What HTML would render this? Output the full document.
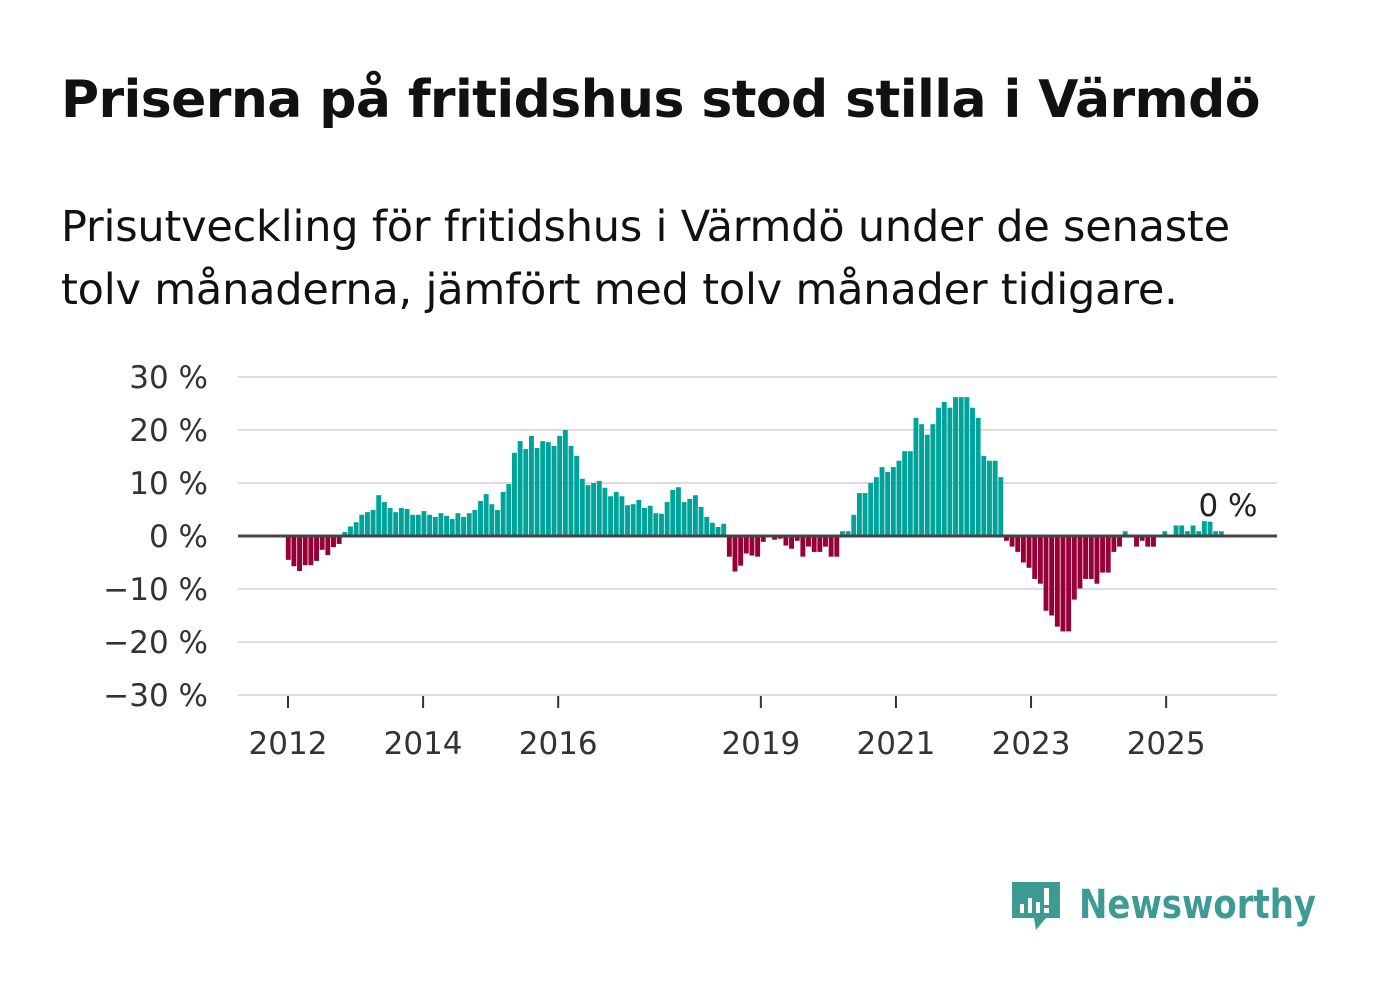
<!DOCTYPE html>
<html><head><meta charset="utf-8"><style>
body{margin:0;width:1382px;height:999px;background:#fff;font-family:"Liberation Sans","DejaVu Sans",sans-serif;overflow:hidden}
#title{position:absolute;left:61px;top:70px;font-size:52px;font-weight:bold;color:#111;font-family:"DejaVu Sans",sans-serif;letter-spacing:-0.6px;white-space:nowrap}
#sub{position:absolute;left:61px;top:196px;font-size:43px;line-height:63px;color:#111;font-family:"DejaVu Sans",sans-serif;width:1230px;letter-spacing:-0.2px}
svg{position:absolute;left:0;top:0}
</style></head><body>
<div id="title">Priserna på fritidshus stod stilla i Värmdö</div>
<div id="sub">Prisutveckling för fritidshus i Värmdö under de senaste<br>tolv månaderna, jämfört med tolv månader tidigare.</div>
<svg width="1382" height="999">
<g id="grid"></g>
<g id="bars"></g>
<g id="axes"></g>
<text x="1228" y="516" font-size="31" text-anchor="middle" fill="#222" font-family="DejaVu Sans,sans-serif">0 %</text>
<g>
<path d="M1012 882 h48 v36 h-14 l-10 12 l-2 -12 h-22 z" fill="#3d9b94"/>
<rect x="1020" y="904" width="4" height="9" fill="#fff"/><rect x="1028" y="898" width="4" height="15" fill="#fff"/><rect x="1036" y="902" width="4" height="11" fill="#fff"/><rect x="1044" y="888" width="5" height="17" fill="#fff"/><rect x="1044" y="908" width="5" height="5" fill="#fff"/>
<text x="1079" y="918" font-size="40" font-weight="bold" fill="#3d9b94" font-family="DejaVu Sans,sans-serif" textLength="237" lengthAdjust="spacingAndGlyphs">Newsworthy</text>
</g>
</svg>
<script>
const values=[-4.5,-5.7,-6.6,-5.5,-5.5,-4.7,-2.6,-3.6,-2.1,-1.5,
0.75,1.8,2.6,4.0,4.5,4.9,7.7,6.4,5.3,4.5,5.3,5.1,4.0,4.0,4.7,4.0,3.6,4.3,3.8,3.2,4.3,3.6,4.3,4.9,6.6,7.9,6.0,4.9,8.3,9.8,
15.7,17.9,16.4,18.9,16.6,17.9,17.7,17.0,18.9,20.0,17.0,15.1,10.8,9.6,10.0,10.4,9.1,7.5,8.3,7.5,5.8,6.0,6.8,5.3,5.7,4.3,4.2,6.4,8.7,9.2,6.4,7.0,7.7,5.5,3.6,2.5,1.7,2.3,
-3.9,-6.7,-5.6,-3.3,-3.7,-3.9,-1.1,0,-0.7,-0.5,-1.8,-2.4,-0.9,-3.9,-2.0,-3.0,-3.0,-2.0,-3.9,-3.9,
0.9,0.9,4.0,8.1,8.1,10.0,11.1,13.0,12.1,13.0,14.2,16.0,16.0,22.3,21.1,19.1,21.1,24.2,25.3,24.2,26.2,26.2,26.2,24.2,22.3,15.1,14.2,14.2,11.1,
-0.9,-2.0,-3.0,-5.0,-6.0,-8.1,-9.0,-14.1,-15.0,-17.1,-18.0,-18.0,-12.0,-9.9,-8.1,-8.1,-9.0,-6.9,-6.9,-3.0,-2.0,
0.9,0,-2.0,-0.9,-2.0,-2.0,0,0.9,0,2.0,2.0,0.9,2.0,0.9,2.8,2.7,0.9,0.9];
const startYear=2012;
const yTicks=[30,20,10,0,-10,-20,-30];
const yTickLabels=["30 %","20 %","10 %","0 %","−10 %","−20 %","−30 %"];
const xTickYears=[2012,2014,2016,2019,2021,2023,2025];

const NS="http://www.w3.org/2000/svg";
const y=v=>536-v*5.3;
const x=m=>288+m*5.655;
function mk(tag,attrs,parent){const e=document.createElementNS(NS,tag);for(const k in attrs)e.setAttribute(k,attrs[k]);parent.appendChild(e);return e;}
const grid=document.getElementById('grid'),bars=document.getElementById('bars'),axes=document.getElementById('axes');
yTicks.forEach((t,i)=>{
  if(t!==0){const l=mk('line',{x1:238,x2:1277,y1:y(t),y2:y(t),stroke:'#dcdcdc','stroke-width':2},grid);
  
  }
  const tx=mk('text',{x:208,y:y(t)+11,'font-size':31,'text-anchor':'end',fill:'#333','font-family':'DejaVu Sans,sans-serif'},axes);
  tx.textContent=yTickLabels[i];
  
  
});
const xt=yr=>288+(yr-startYear)*67.55;
values.forEach((v,i)=>{
  if(v===0)return;
  const r=mk('rect',{x:x(i)-2.2,width:4.9,y:Math.min(y(v),536),height:Math.abs(y(v)-536),fill:v>0?'#00a399':'#960036'},bars);
  
  
});
const zl=mk('line',{x1:238,x2:1277,y1:536,y2:536,stroke:'#444','stroke-width':3},axes);


xTickYears.forEach(yr=>{
  const px=xt(yr);
  const tl=mk('line',{x1:px,x2:px,y1:696,y2:708,stroke:'#333','stroke-width':2},axes);
  
  
  const tx=mk('text',{x:px,y:754,'font-size':31,'text-anchor':'middle',fill:'#333','font-family':'DejaVu Sans,sans-serif'},axes);
  tx.textContent=yr;
  
  
});
</script>
</body></html>
